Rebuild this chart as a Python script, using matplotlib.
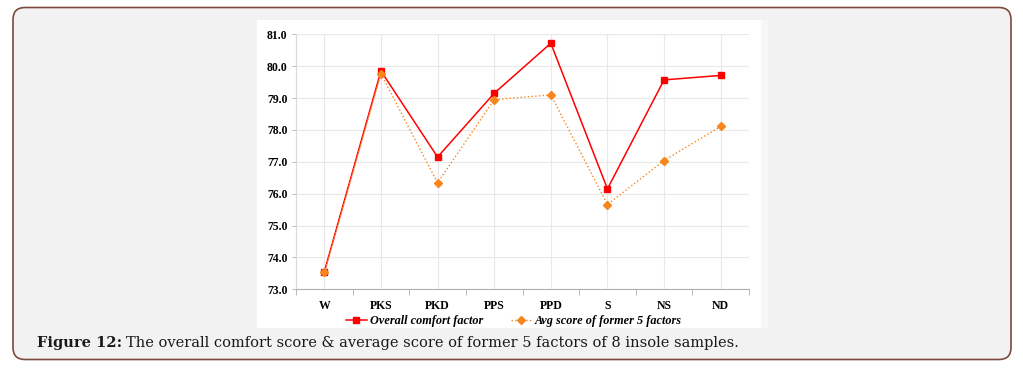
import numpy as np
import matplotlib
matplotlib.use('Agg')
from matplotlib import pyplot as plt
from matplotlib.patches import FancyBboxPatch, Rectangle

# insole samples and their scores
samples = ['W', 'PKS', 'PKD', 'PPS', 'PPD', 'S', 'NS', 'ND']
overall_comfort = [73.55, 79.85, 77.15, 79.15, 80.72, 76.15, 79.57, 79.71]
avg_former5 = [73.53, 79.76, 76.34, 78.95, 79.10, 75.66, 77.04, 78.11]
yticks = [73.0, 74.0, 75.0, 76.0, 77.0, 78.0, 79.0, 80.0, 81.0]

W, H = 1023, 372
fig = plt.figure(figsize=(W / 100, H / 100), dpi=100)
fig.patch.set_facecolor('white')

#background frame drawn in pixel coords
bg = fig.add_axes([0, 0, 1, 1])
bg.set_xlim(0, W)
bg.set_ylim(H, 0)
bg.axis('off')
bg.add_patch(FancyBboxPatch((13, 7.5), 998, 352, boxstyle='round,pad=0,rounding_size=12',
                            facecolor='#f2f2f2', edgecolor='#7b4a3c', linewidth=1.2))
bg.add_patch(Rectangle((257, 20), 511, 308, facecolor='white', edgecolor='none'))
bg.add_patch(Rectangle((761, 20), 7, 308, facecolor='#f7f7f7', edgecolor='none'))

cap_font = dict(fontsize=10.5, family='DejaVu Serif', va='center', ha='left', color='#1a1a1a')
t1 = bg.text(37, 343, 'Figure 12:', fontweight='bold', **cap_font)
fig.canvas.draw()
bb = t1.get_window_extent()
bg.text(bb.x1 + 4, 343, 'The overall comfort score & average score of former 5 factors of 8 insole samples.',
        **cap_font)

ax = fig.add_axes([296 / W, 1 - 289.3 / H, 453 / W, 255 / H])
ax.set_facecolor('white')
x = np.arange(len(samples))

l1, = ax.plot(x, overall_comfort, color='#ff0000', linewidth=1.1, marker='s', markersize=4.5,
              label='Overall comfort factor', zorder=3)
l2, = ax.plot(x, avg_former5, color='#f7861c', linewidth=1.0, linestyle=':', marker='D',
              markersize=4.5, label='Avg score of former 5 factors', zorder=4)

ax.set_xlim(-0.5, len(samples) - 0.5)
ax.set_ylim(73, 81)
ax.set_yticks(yticks)
ax.set_yticklabels(['%.1f' % v for v in yticks])
ax.set_xticks(x)
ax.set_xticklabels(samples)
ax.set_xticks(np.arange(-0.5, len(samples)), minor=True)

ax.grid(True, which='major', color='#e8e8e8', linewidth=0.8)
ax.set_axisbelow(True)
ax.tick_params(axis='x', which='major', length=0, pad=8)
ax.tick_params(axis='x', which='minor', length=4, color='#b0b0b0')
ax.tick_params(axis='y', length=3, color='#c0c0c0', pad=3)
for lab in ax.get_xticklabels() + ax.get_yticklabels():
    lab.set_fontfamily('Liberation Serif')
    lab.set_fontweight('bold')
    lab.set_fontsize(8.5)

for s in ['top', 'right']:
    ax.spines[s].set_visible(False)
ax.spines['left'].set_color('#d9d9d9')
ax.spines['bottom'].set_color('#b0b0b0')

leg = fig.legend(handles=[l1, l2], loc='center', bbox_to_anchor=(514 / W, 1 - 321 / H),
                 ncol=2, frameon=False, handlelength=1.7, columnspacing=2.2, handletextpad=0.3,
                 prop={'family': 'Liberation Serif', 'weight': 'bold', 'style': 'italic', 'size': 8.8})

fig.savefig('out.png', dpi=100)
